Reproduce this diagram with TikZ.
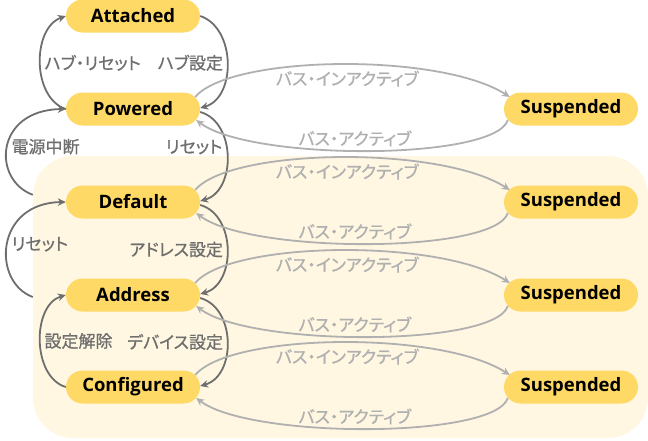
\documentclass[tikz,border=0pt]{standalone}
\usepackage{fontspec}
\setmainfont{Open Sans}
\newfontfamily\jp[RawFeature=+palt,FakeBold=0.8]{Noto Sans CJK JP}
\usetikzlibrary{arrows.meta}
\definecolor{statefill}{HTML}{FFD966}
\definecolor{groupfill}{HTML}{FFF7E1}
\definecolor{darkline}{HTML}{6E6E6E}
\definecolor{lightline}{HTML}{B0B0B0}
\tikzset{
  state/.style={shape=rectangle,rounded corners=16.5pt,fill=statefill,minimum width=134pt,minimum height=33pt,inner sep=0pt,font=\fontsize{18.5}{20}\selectfont\bfseries},
  grp/.style={shape=rectangle,rounded corners=40pt,fill=groupfill,minimum width=615pt,minimum height=282pt,inner sep=0pt},
  tr/.style={line width=1.8pt,darkline,->},
  bus/.style={line width=1.8pt,lightline,->},
  lbl/.style={font=\jp\fontsize{17}{17}\selectfont,text=darkline},
  buslbl/.style={lbl,text=lightline}
}
\begin{document}
\begin{tikzpicture}[x=1pt,y=-1pt,>={Stealth[length=8pt,width=7.5pt]}]
\useasboundingbox (0,0) rectangle (648,440);
\node[grp] (grp) at (340.5,297) {};
\node[state] (att) at (133,16) {Attached};
\node[state] (pow) at (133,109) {Powered};
\node[state] (def) at (133,202) {Default};
\node[state] (adr) at (133,295) {Address};
\node[state] (cfg) at (133,387) {Configured};
\node[state] (sus1) at (571,109) {Suspended};
\node[state] (sus2) at (571,202) {Suspended};
\node[state] (sus3) at (571,295) {Suspended};
\node[state] (sus4) at (571,387) {Suspended};
% state changes
\draw[tr] (pow.west) .. controls +(-34,-11) and +(-34,12) .. node[lbl,right]{ハブ・リセット} (att.west);
\draw[tr] (att.east) .. controls +(36,12) and +(36,-10) .. node[lbl,left]{ハブ設定} ([yshift=1pt]pow.east);
\draw[tr] ([yshift=-39pt]grp.north west) .. controls +(-41,-15) and +(-71,1) .. node[lbl,right]{電源中断} (pow.west);
\draw[tr] ([yshift=-3pt]pow.east) .. controls +(36,10) and +(36,-10) .. node[lbl,left,pos=.42]{リセット} ([yshift=1pt]def.east);
\draw[tr] (grp.west) .. controls +(-41,-15) and +(-71,1) .. node[lbl,right]{リセット} (def.west);
\draw[tr] ([yshift=-3pt]def.east) .. controls +(36,10) and +(36,-10) .. node[lbl,left]{アドレス設定} ([yshift=1pt]adr.east);
\draw[tr] (cfg.west) .. controls +(-34,-10) and +(-34,10) .. node[lbl,right]{設定解除} (adr.west);
\draw[tr] ([yshift=-3pt]adr.east) .. controls +(36,10) and +(36,-10) .. node[lbl,left]{デバイス設定} ([yshift=1pt]cfg.east);
% bus suspend / resume
\draw[bus] ([xshift=-5pt,yshift=12pt]pow.east) .. controls +(35,-42) and +(-70,-45) .. node[buslbl,pos=.52,below=2pt]{バス・インアクティブ} ([xshift=6pt,yshift=12pt]sus1.west);
\draw[bus] ([xshift=4pt,yshift=-11pt]sus1.west) .. controls +(-13,41) and +(54,41) .. node[buslbl,pos=.53,above]{バス・アクティブ} ([xshift=-4pt,yshift=-11pt]pow.east);
\draw[bus] ([xshift=-5pt,yshift=12pt]def.east) .. controls +(35,-42) and +(-70,-45) .. node[buslbl,pos=.52,below=2pt]{バス・インアクティブ} ([xshift=6pt,yshift=12pt]sus2.west);
\draw[bus] ([xshift=4pt,yshift=-11pt]sus2.west) .. controls +(-13,41) and +(54,41) .. node[buslbl,pos=.53,above]{バス・アクティブ} ([xshift=-4pt,yshift=-11pt]def.east);
\draw[bus] ([xshift=-5pt,yshift=12pt]adr.east) .. controls +(35,-42) and +(-70,-45) .. node[buslbl,pos=.52,below=2pt]{バス・インアクティブ} ([xshift=6pt,yshift=12pt]sus3.west);
\draw[bus] ([xshift=4pt,yshift=-11pt]sus3.west) .. controls +(-13,41) and +(54,41) .. node[buslbl,pos=.53,above]{バス・アクティブ} ([xshift=-4pt,yshift=-11pt]adr.east);
\draw[bus] ([xshift=-5pt,yshift=12pt]cfg.east) .. controls +(35,-42) and +(-70,-45) .. node[buslbl,pos=.52,below=2pt]{バス・インアクティブ} ([xshift=6pt,yshift=12pt]sus4.west);
\draw[bus] ([xshift=4pt,yshift=-11pt]sus4.west) .. controls +(-13,41) and +(54,41) .. node[buslbl,pos=.53,above]{バス・アクティブ} ([xshift=-4pt,yshift=-11pt]cfg.east);
\end{tikzpicture}
\end{document}
